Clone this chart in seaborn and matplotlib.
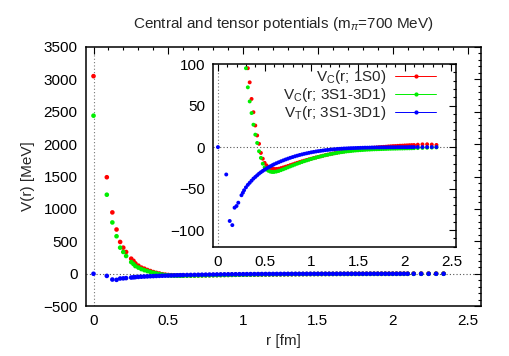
import numpy as np
import matplotlib
matplotlib.use("Agg")
import matplotlib.pyplot as plt
from matplotlib.lines import Line2D
from matplotlib.ticker import MultipleLocator
import seaborn as sns

# distances (fm), shared by the three potentials
r = [0.0, 0.089, 0.126, 0.154, 0.178, 0.199, 0.218, 0.252, 0.267,
     0.28, 0.30, 0.32, 0.34, 0.36, 0.38, 0.40, 0.42, 0.44, 0.46, 0.48,
     0.50, 0.52, 0.54, 0.56, 0.58, 0.60, 0.625, 0.65, 0.675,
     0.70, 0.725, 0.75, 0.775, 0.80, 0.825, 0.85, 0.875, 0.90, 0.925, 0.95, 0.975,
     1.00, 1.025, 1.05, 1.075, 1.10, 1.125, 1.15, 1.175, 1.20, 1.225,
     1.25, 1.275, 1.30, 1.325, 1.35, 1.375, 1.40, 1.425, 1.45, 1.475,
     1.50, 1.525, 1.55, 1.575, 1.60, 1.625, 1.65, 1.675, 1.70, 1.725,
     1.75, 1.775, 1.80, 1.825, 1.85, 1.875, 1.90, 1.925, 1.95, 1.975,
     2.00, 2.025, 2.05, 2.075, 2.10,
     2.14, 2.19, 2.24, 2.29, 2.34]

# V_C(r; 1S0) [MeV]
vc_1s0 = [3050, 1490, 947, 683, 491, 403, 336, 233, 200,
          160, 125, 95, 78, 58, 42, 26, 14, 4, -7, -14,
          -19, -22, -24, -25.5, -26, -26.3, -26.3, -26, -25.3,
          -24.5, -23.6, -22.7, -21.7, -20.8, -19.8, -18.9, -18, -17.1, -16.3, -15.5, -14.7,
          -14, -13.2, -12.5, -11.8, -11.1, -10.4, -9.7, -9.1, -8.5, -7.9,
          -7.3, -6.7, -6.2, -5.7, -5.2, -4.7, -4.2, -3.8, -3.4, -3.0,
          -2.6, -2.3, -2.0, -1.7, -1.4, -1.1, -0.9, -0.6, -0.4, -0.1,
          0.1, 0.3, 0.5, 0.8, 1.0, 1.2, 1.3, 1.5, 1.7, 1.8,
          2.0, 2.1, 2.3, 2.4, 2.5,
          2.9, 3.3, 3.4, 3.1, 2.6]

# V_C(r; 3S1-3D1) [MeV]
vc_3s1 = [2440, 1220, 792, 579, 403, 336, 274, 180, 150,
          118, 95, 72, 55, 41, 27, 15, 5, -5, -13, -20,
          -24.5, -27, -28.5, -29.5, -30, -30, -29.5, -28.8, -27.8,
          -26.7, -25.6, -24.4, -23.3, -22.2, -21.1, -20, -19, -18, -17, -16.1, -15.2,
          -14.3, -13.5, -12.7, -11.9, -11.2, -10.5, -9.8, -9.2, -8.6, -8.0,
          -7.5, -7.0, -6.5, -6.1, -5.7, -5.3, -5.0, -4.7, -4.4, -4.1,
          -3.9, -3.7, -3.5, -3.3, -3.1, -3.0, -2.8, -2.7, -2.6, -2.5,
          -2.4, -2.3, -2.2, -2.1, -2.0, -1.9, -1.9, -1.8, -1.7, -1.7,
          -1.6, -1.5, -1.5, -1.4, -1.3,
          -1.2, -1.0, -0.8, -0.6, -0.4]

# V_T(r; 3S1-3D1) [MeV]
vt_3s1 = [0, -33, -89, -94, -73, -71, -67, -58, -55,
          -52, -48.5, -45.5, -43, -40.5, -38, -36, -34, -32, -30.3, -28.7,
          -27.2, -25.8, -24.5, -23.2, -22, -20.8, -19.5, -18.3, -17.1,
          -16, -14.9, -13.9, -12.9, -12, -11.1, -10.3, -9.5, -8.8, -8.1, -7.5, -6.9,
          -6.3, -5.8, -5.3, -4.9, -4.5, -4.1, -3.7, -3.4, -3.1, -2.8,
          -2.6, -2.3, -2.1, -1.9, -1.7, -1.6, -1.4, -1.3, -1.2, -1.1,
          -1.0, -0.9, -0.8, -0.7, -0.7, -0.6, -0.5, -0.5, -0.4, -0.4,
          -0.3, -0.3, -0.3, -0.2, -0.2, -0.2, -0.2, -0.1, -0.1, -0.1,
          -0.1, -0.1, 0.0, 0.0, 0.0,
          0.0, 0.0, 0.0, 0.0, 0.0]

labels = [r"$\mathregular{V_C}$(r; 1S0)", r"$\mathregular{V_C}$(r; 3S1-3D1)",
          r"$\mathregular{V_T}$(r; 3S1-3D1)"]
colors = ["#ff0000", "#00ee00", "#0000ff"]
series = [vc_1s0, vc_3s1, vt_3s1]

sns.set_style("white")
plt.rcParams["font.family"] = ["Liberation Sans", "DejaVu Sans"]
plt.rcParams["font.size"] = 11
plt.rcParams["mathtext.fontset"] = "custom"
plt.rcParams["mathtext.rm"] = "Liberation Sans"
plt.rcParams["mathtext.it"] = "Liberation Sans:italic"


def style_axes(ax, xmaj, xmin, ymaj, ymin):
    ax.xaxis.set_major_locator(MultipleLocator(xmaj))
    ax.xaxis.set_minor_locator(MultipleLocator(xmin))
    ax.yaxis.set_major_locator(MultipleLocator(ymaj))
    ax.yaxis.set_minor_locator(MultipleLocator(ymin))
    ax.tick_params(which="both", direction="in", top=True, right=True,
                   colors="black", width=0.8, labelsize=11)
    ax.tick_params(which="major", length=5, pad=6)
    ax.tick_params(which="minor", length=2.5)
    for sp in ax.spines.values():
        sp.set_color("black")
        sp.set_linewidth(1.1)
    ax.axhline(0, ls=(0, (1, 2)), color="#555555", lw=0.8, zorder=0)
    ax.axvline(0, ls=(0, (1, 2)), color="#777777", lw=0.8, zorder=0)


fig = plt.figure(figsize=(5.09, 3.56), dpi=100)
ax = fig.add_axes([0.169, 0.140, 0.776, 0.728])
for v, c in zip(series, colors):
    sns.scatterplot(x=r, y=v, ax=ax, color=c, s=11, edgecolor="none",
                    linewidth=0, legend=False)
ax.set_xlim(-0.05, 2.59)
ax.set_ylim(-500, 3500)
style_axes(ax, 0.5, 0.1, 500, 100)
ax.set_xlabel("r [fm]", labelpad=4)
ax.set_ylabel("V(r) [MeV]", labelpad=6)
ax.set_title(r"Central and tensor potentials (m$_\pi$=700 MeV)", pad=14, fontsize=11)
ax.xaxis.set_major_formatter(plt.FuncFormatter(lambda x, p: f"{x:g}"))

ins = fig.add_axes([0.419, 0.307, 0.477, 0.513])
ins.set_facecolor("white")
for v, c in zip(series, colors):
    sns.scatterplot(x=r, y=v, ax=ins, color=c, s=8, edgecolor="none",
                    linewidth=0, legend=False)
ins.set_xlim(-0.05, 2.55)
ins.set_ylim(-120, 100)
style_axes(ins, 0.5, 0.1, 50, 10)
ins.xaxis.set_major_formatter(plt.FuncFormatter(lambda x, p: f"{x:g}"))

handles = [Line2D([], [], color=c, lw=0.7, marker="o", markersize=3,
                  markeredgewidth=0) for c in colors]
ins.legend(handles, labels, loc="upper right", bbox_to_anchor=(0.925, 0.985),
           frameon=False, markerfirst=False, numpoints=1, handlelength=2.7,
           handletextpad=0.6, labelspacing=0.0, borderpad=0.1,
           borderaxespad=0.0, fontsize=11)

fig.savefig("out.png", dpi=100)
